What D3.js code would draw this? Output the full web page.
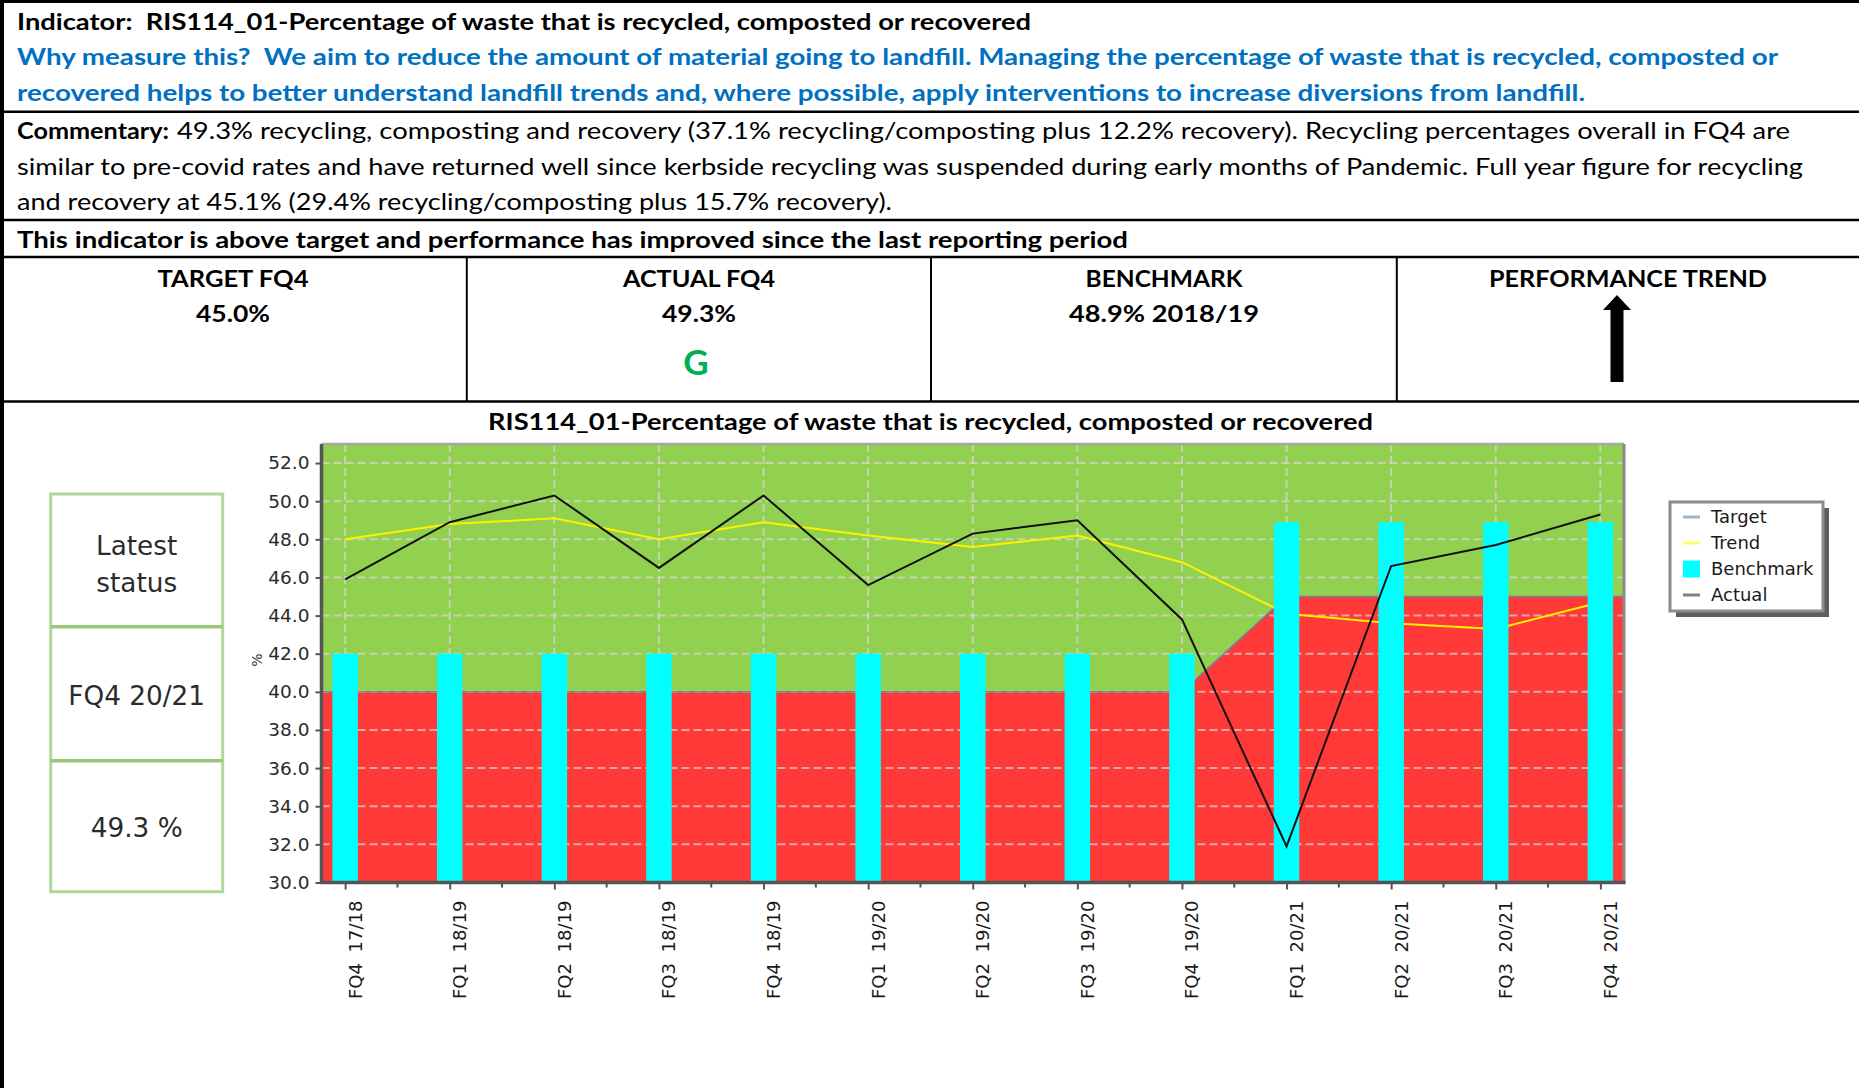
<!DOCTYPE html>
<html>
<head>
<meta charset="utf-8">
<script src="https://cdn.jsdelivr.net/npm/d3@7"></script>
<style>
  html, body { margin: 0; padding: 0; background: #fff; }
  svg { display: block; }
  text { white-space: pre; }
</style>
</head>
<body>
<svg id="page" width="1859" height="1088"></svg>
<script>
// Reporting periods (financial quarters)
const categories = ["FQ4 17/18", "FQ1 18/19", "FQ2 18/19", "FQ3 18/19", "FQ4 18/19", "FQ1 19/20",
  "FQ2 19/20", "FQ3 19/20", "FQ4 19/20", "FQ1 20/21", "FQ2 20/21", "FQ3 20/21", "FQ4 20/21"];
// % of waste recycled, composted or recovered
const actual = [45.9, 48.9, 50.3, 46.5, 50.3, 45.6, 48.3, 49.0, 43.8, 31.9, 46.6, 47.7, 49.3];
const trend = [48.0, 48.8, 49.1, 48.0, 48.9, 48.2, 47.6, 48.2, 46.8, 44.1, 43.6, 43.3, 44.7];
const target = [40, 40, 40, 40, 40, 40, 40, 40, 40, 45, 45, 45, 45];
const benchmark = [42, 42, 42, 42, 42, 42, 42, 42, 42, 48.9, 48.9, 48.9, 48.9];
const benchmarkYear = "2018/19";
const yTicks = [30, 32, 34, 36, 38, 40, 42, 44, 46, 48, 50, 52];
const legendItems = ["Target", "Trend", "Benchmark", "Actual"];

const W = 1859, H = 1088;
const svg = d3.select("#page");
const headFont = "Lato, 'Open Sans', sans-serif";
const chartFont = "'DejaVu Sans', Verdana, sans-serif";
const fmt1 = d3.format(".1f");
const last = categories.length - 1;

svg.append("rect").attr("width", W).attr("height", H).attr("fill", "#fff");

// ---------- report header ----------
function headText(x, y, str, o) {
  const t = svg.append("text")
    .attr("x", x).attr("y", y)
    .attr("font-family", headFont)
    .attr("font-size", o.size || 23)
    .attr("font-weight", o.bold ? 700 : 400)
    .attr("fill", o.color || "#000")
    .attr("text-anchor", o.anchor || "start")
    .text(str);
  if (o.width) t.attr("textLength", o.width).attr("lengthAdjust", "spacingAndGlyphs");
  return t;
}

headText(17, 29.5, "Indicator:  RIS114_01-Percentage of waste that is recycled, composted or recovered", {bold: true, width: 1014});
headText(17, 65, "Why measure this?  We aim to reduce the amount of material going to landfill. Managing the percentage of waste that is recycled, composted or", {bold: true, color: "#0070C0", width: 1761});
headText(17, 100.5, "recovered helps to better understand landfill trends and, where possible, apply interventions to increase diversions from landfill.", {bold: true, color: "#0070C0", width: 1568});
headText(17, 139, "Commentary:", {bold: true, width: 152});
headText(177, 139, "49.3% recycling, composting and recovery (37.1% recycling/composting plus 12.2% recovery). Recycling percentages overall in FQ4 are", {width: 1613});
headText(17, 174.5, "similar to pre-covid rates and have returned well since kerbside recycling was suspended during early months of Pandemic. Full year figure for recycling", {width: 1786});
headText(17, 210, "and recovery at 45.1% (29.4% recycling/composting plus 15.7% recovery).", {width: 875});
headText(17, 248, "This indicator is above target and performance has improved since the last reporting period", {bold: true, width: 1111});

// summary boxes
const boxCx = [233, 699, 1164, 1628];
headText(boxCx[0], 287, "TARGET FQ4", {bold: true, anchor: "middle", width: 151});
headText(boxCx[0], 322, fmt1(target[last]) + "%", {bold: true, anchor: "middle", width: 74});
headText(boxCx[1], 287, "ACTUAL FQ4", {bold: true, anchor: "middle", width: 152});
headText(boxCx[1], 322, fmt1(actual[last]) + "%", {bold: true, anchor: "middle", width: 74});
headText(boxCx[1] - 3, 375, "G", {bold: true, anchor: "middle", size: 35, color: "#00B050"});
headText(boxCx[2], 287, "BENCHMARK", {bold: true, anchor: "middle", width: 157});
headText(boxCx[2], 322, fmt1(benchmark[last]) + "% " + benchmarkYear, {bold: true, anchor: "middle", width: 190});
headText(boxCx[3], 287, "PERFORMANCE TREND", {bold: true, anchor: "middle", width: 278});

// performance trend arrow
const ax = 1617;
svg.append("path")
  .attr("d", `M${ax},295 L${ax + 14},310 L${ax + 6.5},310 L${ax + 6.5},382 L${ax - 6.5},382 L${ax - 6.5},310 L${ax - 14},310 Z`)
  .attr("fill", "#000");

// table rules
const rules = svg.append("g").attr("stroke", "#000");
rules.append("line").attr("x1", 0).attr("x2", W).attr("y1", 1.5).attr("y2", 1.5).attr("stroke-width", 3);
rules.append("line").attr("x1", 2).attr("x2", 2).attr("y1", 0).attr("y2", H).attr("stroke-width", 4);
[111.7, 220, 257, 401.5].forEach(y =>
  rules.append("line").attr("x1", 0).attr("x2", W).attr("y1", y).attr("y2", y).attr("stroke-width", 2.5));
[466.8, 931, 1396.8].forEach(x =>
  rules.append("line").attr("x1", x).attr("x2", x).attr("y1", 257).attr("y2", 401.5).attr("stroke-width", 2));

// ---------- latest status panel ----------
const sp = svg.append("g");
sp.append("rect").attr("x", 50.7).attr("y", 494).attr("width", 172).attr("height", 397.7)
  .attr("fill", "#fff").attr("stroke", "#b0d897").attr("stroke-width", 3);
[626.7, 760.7].forEach(y =>
  sp.append("line").attr("x1", 50.7).attr("x2", 222.7).attr("y1", y).attr("y2", y)
    .attr("stroke", "#98c878").attr("stroke-width", 3.5));
const statusLines = [["Latest", 546], ["status", 583], [categories[last], 696], [fmt1(actual[last]) + " %", 828]];
statusLines.forEach(([s, y]) =>
  sp.append("text").attr("x", 136.7).attr("y", y).attr("dy", "0.36em")
    .attr("text-anchor", "middle").attr("font-family", chartFont).attr("font-size", 26.3)
    .attr("fill", "#2b2b2b").text(s));

// ---------- chart ----------
const plot = {left: 321.5, right: 1624, top: 444, bottom: 882.5};
const x = d3.scalePoint().domain(categories).range([plot.left, plot.right]).padding(0.226);
const y = d3.scaleLinear().domain([30, 53]).range([plot.bottom, plot.top]);
const step = x.step();

svg.append("text").attr("x", 488).attr("y", 430)
  .attr("font-family", headFont).attr("font-size", 23).attr("font-weight", 700)
  .attr("textLength", 885).attr("lengthAdjust", "spacingAndGlyphs")
  .text("RIS114_01-Percentage of waste that is recycled, composted or recovered");

const g = svg.append("g");

// above-target zone
g.append("rect").attr("x", plot.left).attr("y", plot.top)
  .attr("width", plot.right - plot.left).attr("height", plot.bottom - plot.top).attr("fill", "#92D050");

// below-target zone, running edge to edge
const targetPts = [[plot.left, target[0]]]
  .concat(categories.map((c, i) => [x(c), target[i]]))
  .concat([[plot.right, target[last]]]);
g.append("path").datum(targetPts)
  .attr("d", d3.area().x(d => d[0]).y0(y(30)).y1(d => y(d[1])))
  .attr("fill", "#FF3838");

// dashed grid
const grid = g.append("g").attr("stroke", "rgba(214,214,214,0.72)").attr("stroke-width", 2).attr("stroke-dasharray", "8,4");
yTicks.filter(t => t > 30).forEach(t =>
  grid.append("line").attr("x1", plot.left).attr("x2", plot.right).attr("y1", y(t)).attr("y2", y(t)));
categories.forEach(c =>
  grid.append("line").attr("x1", x(c)).attr("x2", x(c)).attr("y1", plot.top).attr("y2", plot.bottom));

// target line
g.append("path").datum(targetPts)
  .attr("d", d3.line().x(d => d[0]).y(d => y(d[1])))
  .attr("fill", "none").attr("stroke", "#6f86a0").attr("stroke-width", 1.5);

// trend line
g.append("path").datum(trend)
  .attr("d", d3.line().x((d, i) => x(categories[i])).y(d => y(d)))
  .attr("fill", "none").attr("stroke", "#FFF200").attr("stroke-width", 2);

// benchmark bars
const barW = 25.5;
g.selectAll("rect.bench").data(benchmark).join("rect").attr("class", "bench")
  .attr("x", (d, i) => x(categories[i]) - barW / 2)
  .attr("y", d => y(d))
  .attr("width", barW)
  .attr("height", d => y(30) - y(d))
  .attr("fill", "#00FFFF");

// actual line
g.append("path").datum(actual)
  .attr("d", d3.line().x((d, i) => x(categories[i])).y(d => y(d)))
  .attr("fill", "none").attr("stroke", "#111").attr("stroke-width", 2);

// frame
g.append("line").attr("x1", plot.left).attr("x2", plot.right).attr("y1", plot.top).attr("y2", plot.top)
  .attr("stroke", "#a8a8a8").attr("stroke-width", 2.5);
g.append("line").attr("x1", plot.right).attr("x2", plot.right).attr("y1", plot.top).attr("y2", plot.bottom)
  .attr("stroke", "#8a8a8a").attr("stroke-width", 3);

// y axis
const yAxis = svg.append("g").attr("transform", `translate(${plot.left},0)`)
  .call(d3.axisLeft(y).tickValues(yTicks).tickFormat(fmt1).tickSize(6).tickPadding(6));
yAxis.select(".domain").attr("d", `M0,${plot.top}V${plot.bottom + 1.5}`).attr("stroke", "#555").attr("stroke-width", 3.5);
yAxis.selectAll(".tick line").attr("stroke", "#555").attr("stroke-width", 2);
yAxis.selectAll(".tick text").attr("font-family", chartFont).attr("font-size", 18.5).attr("fill", "#2a2a2a");

// x axis
const xAxis = svg.append("g").attr("transform", `translate(0,${plot.bottom})`)
  .call(d3.axisBottom(x).tickSize(7).tickFormat(""));
xAxis.select(".domain").attr("d", `M${plot.left - 1.5},0H${plot.right + 1.5}`).attr("stroke", "#555").attr("stroke-width", 3.5);
xAxis.selectAll(".tick line").attr("stroke", "#555").attr("stroke-width", 2);
categories.slice(1).forEach(c =>
  xAxis.append("line").attr("x1", x(c) - step / 2).attr("x2", x(c) - step / 2)
    .attr("y1", 0).attr("y2", 5).attr("stroke", "#555").attr("stroke-width", 2));
svg.append("g").selectAll("text").data(categories).join("text")
  .attr("transform", d => `translate(${x(d) + 16.5},${plot.bottom + 18}) rotate(-90)`)
  .attr("text-anchor", "end")
  .attr("font-family", chartFont).attr("font-size", 18).attr("word-spacing", 5)
  .attr("fill", "#1a1a1a")
  .text(d => d);

// y axis title
svg.append("text").attr("transform", "translate(262,660) rotate(-90)")
  .attr("text-anchor", "middle").attr("font-family", chartFont).attr("font-size", 14)
  .attr("fill", "#333").text("%");

// ---------- legend ----------
const lg = svg.append("g").attr("transform", "translate(1670,502)");
lg.append("rect").attr("x", 6).attr("y", 6).attr("width", 153).attr("height", 109).attr("fill", "#5e5e5e");
lg.append("rect").attr("x", 0).attr("y", 0).attr("width", 153).attr("height", 109)
  .attr("fill", "#fff").attr("stroke", "#8c8c8c").attr("stroke-width", 3);
const legendColor = {Target: "#9fb4cc", Trend: "#ffff66", Benchmark: "#00FFFF", Actual: "#808080"};
legendItems.forEach((name, i) => {
  const cy = 15 + i * 26;
  if (name === "Benchmark") {
    lg.append("rect").attr("x", 13).attr("y", cy - 8.5).attr("width", 17).attr("height", 17).attr("fill", legendColor[name]);
  } else {
    lg.append("line").attr("x1", 13).attr("x2", 30).attr("y1", cy).attr("y2", cy)
      .attr("stroke", legendColor[name]).attr("stroke-width", 3);
  }
  lg.append("text").attr("x", 41).attr("y", cy).attr("dy", "0.36em")
    .attr("font-family", chartFont).attr("font-size", 18).attr("fill", "#1a1a1a").text(name);
});
</script>
</body>
</html>
